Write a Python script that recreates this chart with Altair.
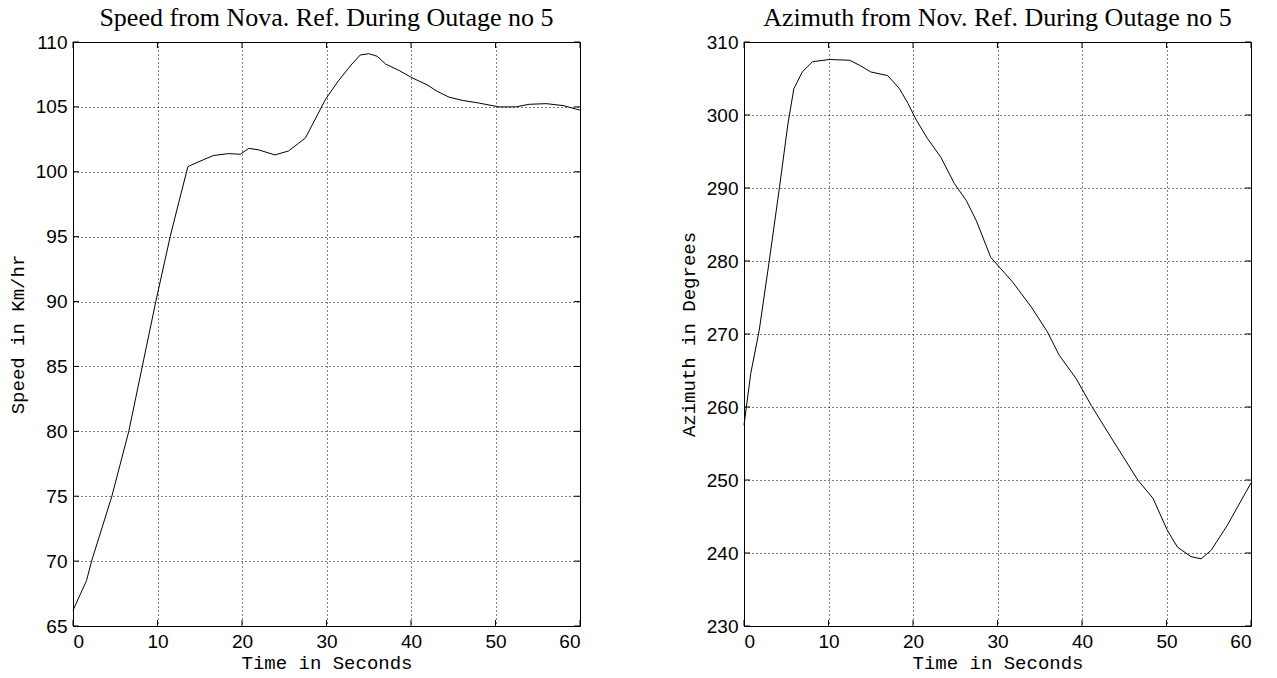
import altair as alt
import pandas as pd

# Speed panel
speed_t = [0, 1.6, 2.2, 4.6, 6.6, 8.2, 9.8, 11.5, 12.5, 13.6, 14.8, 16.6, 18.4, 19.8,
           20.8, 21.9, 23.9, 25.5, 26.7, 27.5, 29.9, 31.4, 33.0, 34.0, 35.0, 36.0,
           37.0, 38.6, 40.1, 41.9, 43.1, 44.5, 46.1, 48.0, 50.4, 52.4, 54.0, 56.0,
           58.0, 60.0]
speed_v = [66.2, 68.5, 70.0, 75.0, 80.0, 85.0, 90.0, 95.0, 97.6, 100.4, 100.75, 101.25,
           101.4, 101.35, 101.8, 101.7, 101.3, 101.6, 102.2, 102.6, 105.6, 107.0, 108.3,
           109.0, 109.1, 108.9, 108.3, 107.8, 107.25, 106.7, 106.2, 105.75, 105.5, 105.3,
           105.0, 105.0, 105.2, 105.25, 105.1, 104.75]

# Azimuth panel
az_t = [0, 0.8, 1.8, 3.0, 4.2, 5.2, 5.9, 6.9, 8.1, 10.1, 12.5, 13.7, 15.0, 17.0, 18.4,
        19.4, 20.4, 21.7, 23.3, 24.9, 26.3, 27.5, 29.2, 31.8, 34.0, 35.9, 37.3, 39.3,
        41.1, 43.4, 46.6, 48.4, 50.1, 51.3, 52.9, 54.1, 55.3, 57.2, 60.0]
az_v = [257.5, 264.6, 270.5, 280.1, 290.1, 298.8, 303.6, 305.9, 307.3, 307.6, 307.5,
        306.8, 305.9, 305.4, 303.6, 301.6, 299.3, 296.8, 294.2, 290.6, 288.3, 285.5,
        280.5, 277.1, 273.7, 270.3, 267.1, 263.9, 260.2, 255.9, 250.0, 247.5, 243.1,
        240.8, 239.5, 239.2, 240.4, 243.8, 249.6]

x_ticks = [0, 10, 20, 30, 40, 50, 60]
speed_ticks = [65, 70, 75, 80, 85, 90, 95, 100, 105, 110]
az_ticks = [230, 240, 250, 260, 270, 280, 290, 300, 310]

W, H = 507, 584
TL = 6  # inward tick length

def panel(t, v, title, ytitle, ydom, yticks):
    df = pd.DataFrame({"t": t, "v": v})
    xs = alt.Scale(domain=[0, 60], nice=False)
    ys = alt.Scale(domain=ydom, nice=False, zero=False)
    x = alt.X("t:Q", scale=xs,
              axis=alt.Axis(values=x_ticks, title="Time in Seconds", format="d"))
    y = alt.Y("v:Q", scale=ys,
              axis=alt.Axis(values=yticks, title=ytitle, format="d"))
    line = alt.Chart(df).mark_line(color="black", strokeWidth=1).encode(x=x, y=y)

    xt = pd.DataFrame({"t": x_ticks})
    yt = pd.DataFrame({"v": yticks})
    tick_style = dict(color="black", strokeWidth=1)
    xb = alt.Chart(xt).mark_rule(**tick_style).encode(
        x=alt.X("t:Q", scale=xs), y=alt.value(H), y2=alt.value(H - TL))
    xtp = alt.Chart(xt).mark_rule(**tick_style).encode(
        x=alt.X("t:Q", scale=xs), y=alt.value(0), y2=alt.value(TL))
    yl = alt.Chart(yt).mark_rule(**tick_style).encode(
        y=alt.Y("v:Q", scale=ys), x=alt.value(0), x2=alt.value(TL))
    yr = alt.Chart(yt).mark_rule(**tick_style).encode(
        y=alt.Y("v:Q", scale=ys), x=alt.value(W), x2=alt.value(W - TL))

    return alt.layer(line, xb, xtp, yl, yr).properties(
        width=W, height=H,
        title=alt.TitleParams(title, font="Liberation Serif", fontSize=26,
                              fontWeight="normal", color="black", offset=2))

left = panel(speed_t, speed_v, "Speed from Nova. Ref. During Outage no 5",
             "Speed in Km/hr", [65, 110], speed_ticks)
right = panel(az_t, az_v, "Azimuth from Nov. Ref. During Outage no 5",
              "Azimuth in Degrees", [230, 310], az_ticks)

chart = alt.hconcat(left, right, spacing=95).properties(
    padding={"left": 7, "top": 4, "right": 5, "bottom": 5},
    background="white",
).configure_view(stroke="black", strokeWidth=1).configure_axis(
    grid=True, gridColor="black", gridDash=[1, 3], gridOpacity=1, gridWidth=1,
    domain=False, ticks=False,
    labelFont="Liberation Sans", labelFontSize=19, labelColor="black",
    titleFont="Liberation Mono", titleFontSize=19, titleFontWeight="normal",
    titleColor="black",
).configure_axisY(titlePadding=8, labelPadding=6).configure_axisX(
    titlePadding=2, labelPadding=6)

chart.save("out.html", embed_options={"renderer": "svg", "actions": False})
